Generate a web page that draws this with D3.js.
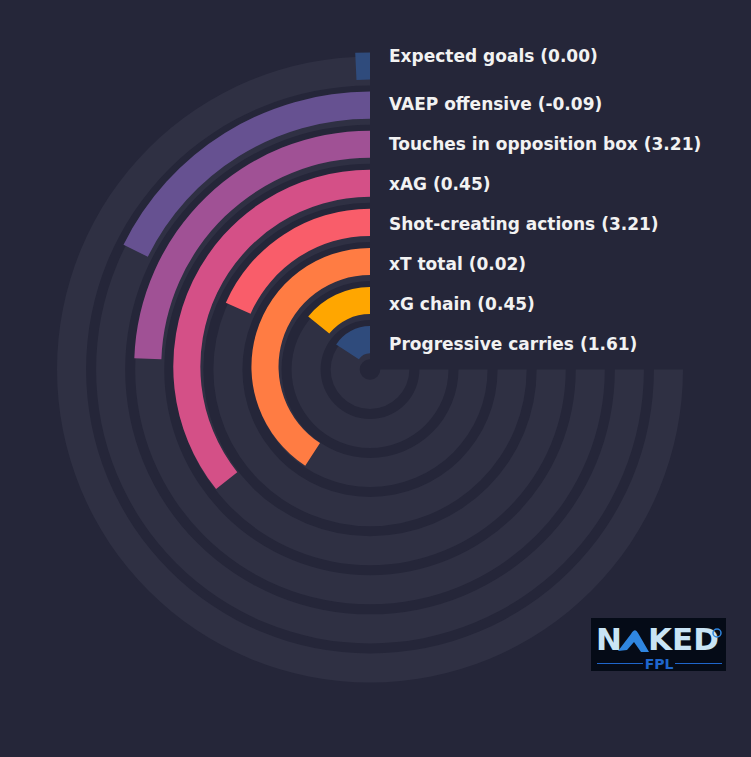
<!DOCTYPE html>
<html>
<head>
<meta charset="utf-8">
<script src="https://cdn.jsdelivr.net/npm/d3@7"></script>
<style>
  html, body { margin: 0; padding: 0; background: #252639; }
</style>
</head>
<body>
<div id="radialChart"></div>
<script>
// Metrics, outermost ring first
const metrics = [
  "Expected goals",
  "VAEP offensive",
  "Touches in opposition box",
  "xAG",
  "Shot-creating actions",
  "xT total",
  "xG chain",
  "Progressive carries"
];

// Per 90 values shown in the labels
const per90 = ["0.00", "-0.09", "3.21", "0.45", "3.21", "0.02", "0.45", "1.61"];

// Percentile ranks (length of each bar, 100 = full track)
const percentiles = [1, 23.6, 32.6, 47.6, 24.5, 54.4, 18.9, 21.1];

const barColors = ["#2f4b7c", "#665191", "#a05195", "#d45087", "#f95d6a", "#ff7c43", "#ffa600", "#2f4b7c"];

// Chart dimensions
const width = 751;
const height = 757;
const cx = 370;
const cy = 369.5;

const svg = d3.select("#radialChart")
  .append("svg")
  .attr("width", width)
  .attr("height", height)
  .style("display", "block");

svg.append("rect")
  .attr("width", width)
  .attr("height", height)
  .attr("fill", "#252639");

// Radius of each ring
const ring = d3.scaleBand()
  .domain(metrics)
  .range([313, 10.3])
  .paddingInner(0.256)
  .paddingOuter(0);

// Percentile -> angle (counter clockwise from 12 o'clock, 270 degrees max)
const angle = d3.scaleLinear()
  .domain([0, 100])
  .range([0, -1.5 * Math.PI]);

const trackArc = d3.arc()
  .innerRadius(d => ring(d.name))
  .outerRadius(d => ring(d.name) + ring.bandwidth())
  .startAngle(0)
  .endAngle(angle(100));

// bars sit a touch thinner and higher than their tracks
const barArc = d3.arc()
  .innerRadius(d => ring(d.name) + 3)
  .outerRadius(d => ring(d.name) + ring.bandwidth() + 1)
  .startAngle(0)
  .endAngle(d => angle(d.value));

const rows = metrics.map((name, i) => ({
  name: name,
  value: percentiles[i],
  label: per90[i],
  color: barColors[i]
}));

// Background tracks
svg.append("g")
  .attr("transform", `translate(${cx},${cy})`)
  .selectAll(".track")
  .data(rows)
  .enter()
  .append("path")
  .attr("class", "track")
  .attr("d", trackArc)
  .attr("fill", "#2f3043");

// Bars
svg.append("g")
  .attr("transform", `translate(${cx},${cy - 3})`)
  .selectAll(".bar")
  .data(rows)
  .enter()
  .append("path")
  .attr("class", "bar")
  .attr("d", barArc)
  .attr("fill", d => d.color);

// Labels to the right of the top
const labelY = i => i === 0 ? 62 : 110 + (i - 1) * 40;

svg.selectAll(".label")
  .data(rows)
  .enter()
  .append("text")
  .attr("class", "label")
  .attr("x", 389)
  .attr("y", (d, i) => labelY(i))
  .style("font-family", "'DejaVu Sans', sans-serif")
  .style("font-weight", "bold")
  .style("font-size", "17px")
  .style("fill", "#f2f2f2")
  .text(d => `${d.name} (${d.label})`);

// Logo
const logo = svg.append("g")
  .attr("transform", "translate(591,618)");

logo.append("rect")
  .attr("width", 135)
  .attr("height", 53)
  .attr("fill", "#050b17");

logo.append("text")
  .attr("x", 5)
  .attr("y", 32)
  .style("font-family", "'DejaVu Sans', sans-serif")
  .style("font-weight", "bold")
  .style("font-size", "31px")
  .style("fill", "#c9e4f5")
  .text("N");

// shark fin in place of the A
logo.append("path")
  .attr("d", "M27,33 L40,16 Q44,9 47,15 L58,34 L50,34 L43,24 L36,32 Z")
  .attr("fill", "#2f86e0");

logo.append("text")
  .attr("x", 57)
  .attr("y", 32)
  .style("font-family", "'DejaVu Sans', sans-serif")
  .style("font-weight", "bold")
  .style("font-size", "31px")
  .style("fill", "#c9e4f5")
  .text("KED");

logo.append("circle")
  .attr("cx", 126)
  .attr("cy", 15)
  .attr("r", 4)
  .attr("fill", "none")
  .attr("stroke", "#2f86e0")
  .attr("stroke-width", 1.5);

logo.append("text")
  .attr("x", 68)
  .attr("y", 51)
  .attr("text-anchor", "middle")
  .style("font-family", "'DejaVu Sans', sans-serif")
  .style("font-weight", "bold")
  .style("font-size", "14px")
  .style("fill", "#1f66cc")
  .text("FPL");

logo.append("line")
  .attr("x1", 6).attr("x2", 52)
  .attr("y1", 45.5).attr("y2", 45.5)
  .attr("stroke", "#1f66cc");

logo.append("line")
  .attr("x1", 84).attr("x2", 131)
  .attr("y1", 45.5).attr("y2", 45.5)
  .attr("stroke", "#1f66cc");
</script>
</body>
</html>
